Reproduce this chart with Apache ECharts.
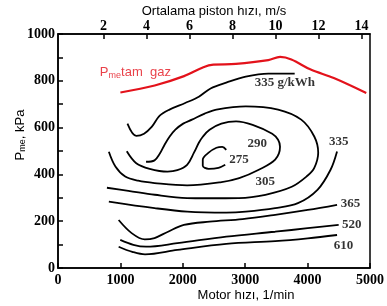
<!DOCTYPE html>
<html>
<head>
<meta charset="utf-8">
<script src="https://cdn.jsdelivr.net/npm/echarts@6/dist/echarts.min.js"></script>
<style>
  html, body { margin: 0; padding: 0; background: #fff; }
  #chart { width: 387px; height: 306px; }
</style>
</head>
<body>
<div id="chart"></div>
<script>
// [motor hizi 1/min, Pme kPa]
const fullLoad = [[1000, 750], [1550, 780], [2020, 820], [2330, 858], [2490, 869], [2850, 872],
  [3370, 888], [3560, 902], [3740, 891], [4050, 848], [4420, 812], [4940, 748]];
const bsfc335Top = [[1113, 617], [1254, 565], [1379, 574], [1505, 604], [1630, 651], [1787, 677],
  [2038, 705], [2257, 732], [2445, 767], [2696, 792], [3009, 818], [3370, 831], [3793, 831]];
const bsfc305 = [[1411, 454], [1547, 460], [1630, 488], [1708, 527], [1787, 561], [1881, 591],
  [2006, 617], [2147, 634], [2351, 660], [2539, 677], [3009, 691], [3527, 677], [3898, 634],
  [4107, 562], [4170, 493], [4107, 428], [3997, 394], [3746, 347], [3323, 313], [2900, 299],
  [2382, 298], [2069, 299], [1552, 313], [1128, 330], [784, 343]];
const bsfc290 = [[815, 497], [920, 434], [1077, 391], [1285, 373], [1547, 363], [2069, 353],
  [2600, 366], [2904, 384], [3218, 420], [3480, 463], [3558, 518], [3527, 548], [3433, 574],
  [3119, 612], [2853, 627], [2618, 617], [2429, 591], [2320, 561], [2257, 535], [2179, 493],
  [2069, 441], [1912, 418], [1755, 412], [1469, 424], [1254, 448], [1102, 499]];
const bsfc275 = [[2696, 505], [2633, 518], [2539, 514], [2414, 493], [2320, 463], [2320, 437],
  [2414, 424], [2571, 428], [2680, 441]];
const bsfc335 = [[4472, 498], [4368, 420], [4158, 334], [3845, 277], [3480, 256], [3009, 241],
  [2696, 237], [2069, 241], [1547, 256], [815, 284]];
const bsfc365 = [[972, 205], [1180, 149], [1390, 122], [1547, 128], [1755, 154], [2017, 184],
  [2429, 198], [2958, 209], [3480, 227], [4002, 248], [4472, 270]];
const bsfc520 = [[998, 120], [1207, 99], [1411, 91], [1912, 106], [2696, 134], [3480, 155],
  [4002, 170], [4498, 184]];
const bsfc610 = [[972, 91], [1191, 69], [1395, 58], [1912, 77], [2696, 103], [3480, 115],
  [4002, 127], [4472, 141]];

const contourLabels = [
  ['335 g/kWh', 3636, 792],
  ['290', 3193, 533],
  ['275', 2900, 463],
  ['305', 3323, 368],
  ['335', 4498, 540],
  ['365', 4686, 274],
  ['520', 4707, 186],
  ['610', 4577, 94],
];
const fullLoadLabelPos = [1240, 835];
const pistonTicks = [2, 4, 6, 8, 10, 12, 14];

const serifBold = { fontFamily: 'Liberation Serif', fontWeight: 'bold', fontSize: 14, color: '#000' };
const RED = '#e3121b';

const contour = (data, color = '#000', width = 1.8) => ({
  type: 'line',
  data,
  smooth: 0.35,
  symbol: 'none',
  silent: true,
  lineStyle: { color, width },
});

const chart = echarts.init(document.getElementById('chart'));

chart.setOption({
  animation: false,
  backgroundColor: '#fff',
  grid: {
    left: 58, right: 10, top: 34, bottom: 38,
    show: true, borderColor: '#000', borderWidth: 1.5,
  },
  xAxis: [{
    type: 'value',
    min: 0,
    max: 5000,
    interval: 1000,
    axisLine: { lineStyle: { color: '#000', width: 1.5 } },
    axisTick: { inside: true, length: 5, lineStyle: { color: '#000', width: 1.5 } },
    axisLabel: { ...serifBold, margin: 5, formatter: (v) => String(v) },
    splitLine: { show: false },
  }, {
    type: 'value',
    position: 'top',
    min: -0.12,
    max: 14.39,
    axisLine: { lineStyle: { color: '#000', width: 1.5 } },
    axisTick: { inside: true, length: 5, customValues: pistonTicks, lineStyle: { color: '#000', width: 1.5 } },
    axisLabel: { ...serifBold, margin: 1, customValues: pistonTicks, formatter: (v) => String(v) },
    splitLine: { show: false },
  }],
  yAxis: {
    type: 'value',
    min: 0,
    max: 1000,
    interval: 100,
    axisLine: { show: true, lineStyle: { color: '#000', width: 1.5 } },
    axisTick: { show: true, inside: true, length: 5, lineStyle: { color: '#000', width: 1.5 } },
    axisLabel: { ...serifBold, margin: 3, formatter: (v) => (v % 200 === 0 ? String(v) : '') },
    splitLine: { show: false },
  },
  graphic: [{
    type: 'text',
    x: 214,
    y: 11,
    style: {
      text: 'Ortalama piston hızı, m/s',
      font: '13px "Liberation Sans"',
      fill: '#000',
      textAlign: 'center',
      textVerticalAlign: 'middle',
    },
  }, {
    type: 'text',
    x: 246,
    y: 295,
    style: {
      text: 'Motor hızı, 1/min',
      font: '13px "Liberation Sans"',
      fill: '#000',
      textAlign: 'center',
      textVerticalAlign: 'middle',
    },
  }, {
    type: 'text',
    x: 20,
    y: 135,
    rotation: Math.PI / 2,
    style: {
      text: '{p|P}{s|me}{p|, kPa}',
      textAlign: 'center',
      textVerticalAlign: 'middle',
      rich: {
        p: { fontFamily: 'Liberation Sans', fontSize: 13, fill: '#000' },
        s: { fontFamily: 'Liberation Sans', fontSize: 9, fill: '#000', padding: [6, 0, 0, 0] },
      },
    },
  }],
  series: [
    contour(fullLoad, RED, 2.2),
    contour(bsfc335Top),
    contour(bsfc305),
    contour(bsfc290),
    contour(bsfc275),
    contour(bsfc335),
    contour(bsfc365),
    contour(bsfc520),
    contour(bsfc610),
    {
      type: 'scatter',
      symbolSize: 0,
      silent: true,
      data: contourLabels.map((d) => ({ name: d[0], value: [d[1], d[2]] })),
      label: {
        show: true,
        position: 'inside',
        formatter: '{b}',
        fontFamily: 'Liberation Serif',
        fontWeight: 'bold',
        fontSize: 13,
        color: '#000',
      },
    },
    {
      type: 'scatter',
      symbolSize: 0,
      silent: true,
      data: [{ name: 'tam gaz', value: fullLoadLabelPos }],
      label: {
        show: true,
        position: 'inside',
        formatter: '{p|P}{s|me}{p|tam  gaz}',
        rich: {
          p: { fontFamily: 'Liberation Sans', fontSize: 13, color: RED },
          s: { fontFamily: 'Liberation Sans', fontSize: 9, color: RED, padding: [6, 0, 0, 0] },
        },
      },
    },
  ],
});
</script>
</body>
</html>
